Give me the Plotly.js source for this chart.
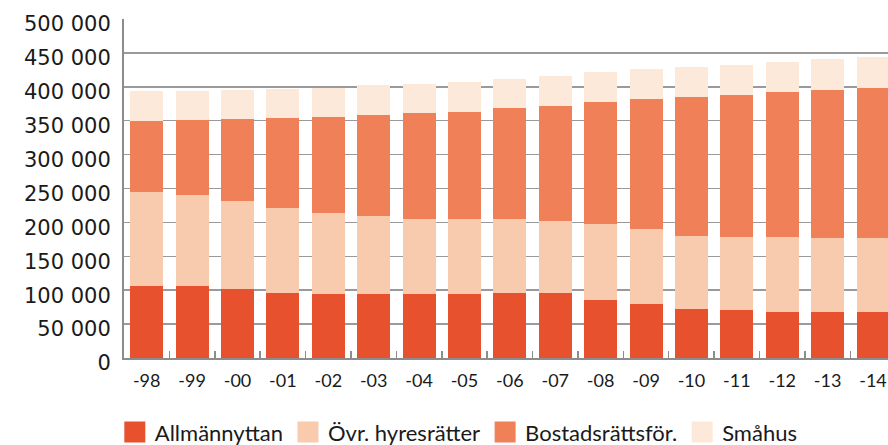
<!DOCTYPE html>
<html>
<head>
<meta charset="utf-8">
<script src="https://cdn.plot.ly/plotly-3.0.1.min.js"></script>
<style>html,body{margin:0;padding:0;background:#fff;}#chart{width:888px;height:445px;}</style>
</head>
<body>
<div id="chart"></div>
<script>
var years = ['-98','-99','-00','-01','-02','-03','-04','-05','-06','-07','-08','-09','-10','-11','-12','-13','-14'];
var allmannyttan = [105700,105700,101300,95400,93900,93900,93900,93900,95400,95400,85000,79200,71800,70300,67400,67400,67400];
var ovrHyresratter = [138700,134200,129800,125300,119500,115000,110600,110600,109100,106200,112100,110600,107600,107700,110600,109100,109100];
var bostadsratt = [104700,110600,120900,132800,141600,149000,156400,157800,163700,169600,180000,191700,205100,209400,213800,218300,221200];
var smahus = [44300,42800,42800,42800,42700,44300,42700,44300,42800,44200,44200,44300,44200,44300,44300,45700,45800];
var seriesNames = ['Allmännyttan','Övr. hyresrätter','Bostadsrättsför.','Småhus'];
var seriesColors = ['#E8512D','#F9CBAE','#F08058','#FDE9DA'];
var yTickVals = [0,50000,100000,150000,200000,250000,300000,350000,400000,450000,500000];
var yTickText = ['0','50 000','100 000','150 000','200 000','250 000','300 000','350 000','400 000','450 000','500 000'];

var seriesData = [allmannyttan, ovrHyresratter, bostadsratt, smahus];
var traces = [];
seriesData.forEach(function(vals, i){
  traces.push({
    type:'bar', x:years, y:vals, name:seriesNames[i],
    marker:{color:seriesColors[i]}, showlegend:false, hoverinfo:'y'
  });
});
seriesNames.forEach(function(n, i){
  traces.push({
    type:'scatter', mode:'markers', x:[null], y:[null], name:n,
    marker:{symbol:'square', size:16, color:seriesColors[i], line:{color:seriesColors[i], width:5}},
    showlegend:true, hoverinfo:'skip'
  });
});

var layout = {
  width:888, height:445,
  margin:{l:124, r:0, t:19, b:87, autoexpand:false},
  paper_bgcolor:'#fff', plot_bgcolor:'#fff',
  barmode:'stack', bargap:0.275,
  font:{family:'Lato, sans-serif', size:22, color:'#1a1a1a'},
  xaxis:{
    type:'category', range:[-0.5,16.33], fixedrange:true, automargin:false,
    showline:true, linecolor:'#8c8c8c', linewidth:2,
    ticks:'inside', tickson:'boundaries', ticklen:7, tickwidth:1.5, tickcolor:'#8c8c8c',
    ticklabelstandoff:5,
    tickfont:{family:'Lato, sans-serif', size:18, color:'#1a1a1a'},
    showgrid:false
  },
  yaxis:{
    range:[0,500000], fixedrange:true, automargin:false,
    tickvals:yTickVals, ticktext:yTickText,
    showline:true, linecolor:'#8c8c8c', linewidth:2,
    showgrid:true, gridcolor:'#9a9a9a', gridwidth:1.5,
    zeroline:false, ticks:'', ticklabelstandoff:7, ticklabelshift:5,
    tickfont:{family:'DejaVu Sans, sans-serif', size:21, color:'#1a1a1a'}
  },
  legend:{
    orientation:'h', x:-0.012, xanchor:'left', y:-0.219, yanchor:'middle',
    font:{family:'Lato, sans-serif', size:22, color:'#1a1a1a'},
    itemwidth:30, traceorder:'normal'
  },
  showlegend:true
};
Plotly.newPlot('chart', traces, layout, {displayModeBar:false, staticPlot:true});
</script>
</body>
</html>
